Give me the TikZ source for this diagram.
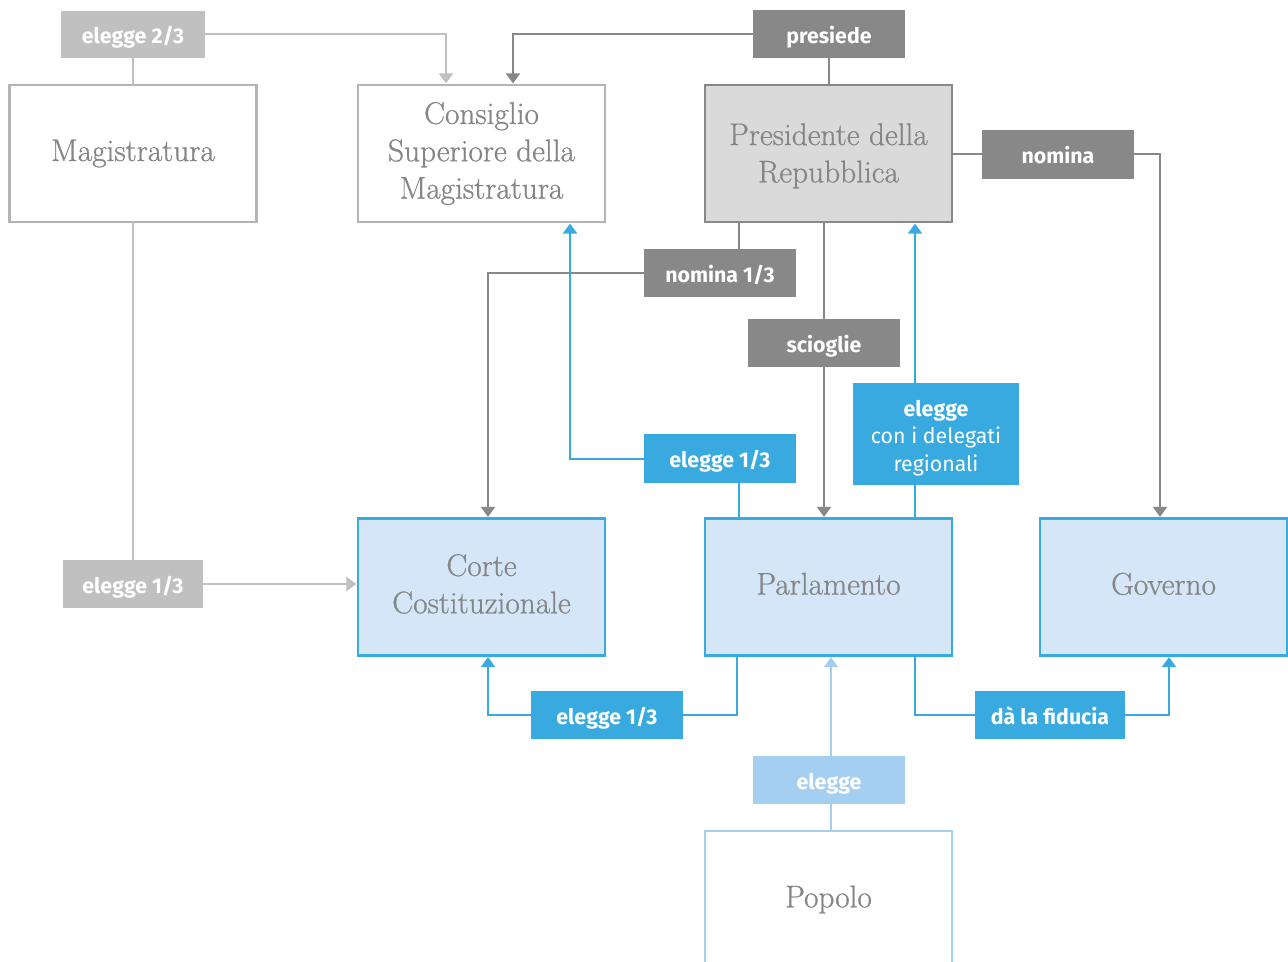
\documentclass[tikz,border=0pt]{standalone}
\usepackage{fontspec}
\usetikzlibrary{arrows.meta}
\newfontfamily\lblfont{Fira Sans}
\newfontfamily\boxfont{Latin Modern Roman}[FakeBold=0.7]
\definecolor{bxgray}{HTML}{B4B4B4}
\definecolor{lgray}{HTML}{C0C0C0}
\definecolor{dgray}{HTML}{888888}
\definecolor{presfill}{HTML}{DADADA}
\definecolor{blu}{HTML}{38AAE0}
\definecolor{blufill}{HTML}{D4E6F7}
\definecolor{lblu}{HTML}{A5CFF0}
\definecolor{txtgray}{HTML}{858585}
\begin{document}
\begin{tikzpicture}[x=0.75pt,y=-0.75pt,
  wh/.style 2 args={minimum width=#1*0.75pt, minimum height=#2*0.75pt},
  box/.style={draw, line width=1.9pt, inner sep=0pt, outer sep=0pt, wh={247}{137},
    align=center, text=txtgray, font=\boxfont\fontsize{23.5}{28}\selectfont},
  lbl/.style={inner sep=0pt, outer sep=0pt, text=white, align=center,
    font=\lblfont\bfseries\fontsize{16}{20.6}\selectfont},
  one/.style={text height=14pt, text depth=0pt},
  ln/.style={line width=1.5pt},
  arr/.style={-{Triangle[width=10.5pt,length=7.5pt]}, shorten >=1.2pt},
  lgline/.style={ln, draw=lgray},
  dgline/.style={ln, draw=dgray},
  bline/.style={ln, draw=blu},
  lbline/.style={ln, draw=lblu}]
\path[use as bounding box, clip] (0,0) rectangle (1288,962);
\fill[white] (0,0) rectangle (1288,962);

% main boxes
\node[box, draw=bxgray, fill=white] (mag) at (133,153.5) {Magistratura};
\node[box, draw=bxgray, fill=white] (csm) at (481.5,153.5) {Consiglio\\Superiore della\\Magistratura};
\node[box, draw=dgray, fill=presfill, text depth=1pt] (pres) at (828.5,153.5) {Presidente della\\Repubblica};
\node[box, draw=blu, fill=blufill, text depth=5pt] (corte) at (481.5,587) {Corte\\Costituzionale};
\node[box, draw=blu, fill=blufill, text depth=5pt] (parl) at (828.5,587) {Parlamento};
\node[box, draw=blu, fill=blufill, text depth=5pt] (gov) at (1163.5,587) {Governo};
\node[box, draw=lblu, fill=white] (pop) at (828.5,899.5) {Popolo};

% labels
\node[lbl, one, fill=lgray, wh={144}{47}] (l23) at (133,34.5) {elegge 2/3};
\node[lbl, one, fill=dgray, wh={152}{48}] (presiede) at (829,34) {presiede};
\node[lbl, one, fill=dgray, wh={152}{49}] (nomina) at (1058,154.5) {nomina};
\node[lbl, one, fill=dgray, wh={152}{48}] (nom13) at (720,273) {nomina 1/3};
\node[lbl, one, fill=dgray, wh={152}{48}] (sciog) at (824,343) {scioglie};
\node[lbl, fill=blu, wh={166}{102}] (del) at (936,434) {};
\node[lbl] (deltext) at (936,438) {elegge\\\mdseries con i delegati\\\mdseries regionali};
\node[lbl, one, fill=blu, wh={152}{49}] (e13a) at (720,458.5) {elegge 1/3};
\node[lbl, one, fill=lgray, wh={140}{48}] (e13g) at (133,584) {elegge 1/3};
\node[lbl, one, fill=blu, wh={152}{48}] (e13b) at (607,715) {elegge 1/3};
\node[lbl, one, fill=blu, wh={150}{48}] (fid) at (1050,715) {dà la fiducia};
\node[lbl, one, fill=lblu, wh={152}{48}] (elp) at (829,780) {elegge};

% helper x positions
\coordinate (x446) at (446,0);
\coordinate (x513) at (513,0);
\coordinate (x1160) at (1160,0);
\coordinate (x739) at (739,0);
\coordinate (x488) at (488,0);
\coordinate (x915) at (915,0);
\coordinate (x570) at (570,0);
\coordinate (x737) at (737,0);
\coordinate (x1169) at (1169,0);
\coordinate (x831) at (831,0);

% connectors
\draw[lgline, arr] (l23.east) -| (csm.north -| x446);
\draw[lgline] (l23.south) -- (mag.north);
\draw[dgline] (presiede.south) -- (presiede.south |- pres.north);
\draw[dgline, arr] (presiede.west) -| (csm.north -| x513);
\draw[dgline] (pres.east |- nomina.west) -- (nomina.west);
\draw[dgline, arr] (nomina.east) -| (gov.north -| x1160);
\draw[dgline] (pres.south -| x739) -- (nom13.north -| x739);
\draw[dgline, arr] (nom13.west) -| (corte.north -| x488);
\draw[dgline] (pres.south -| sciog.north) -- (sciog.north);
\draw[dgline, arr] (sciog.south) -- (parl.north -| sciog.south);
\draw[bline] (parl.north -| x915) -- (del.south -| x915);
\draw[bline, arr] (del.north -| x915) -- (pres.south -| x915);
\draw[bline] (parl.north -| x739) -- (e13a.south -| x739);
\draw[bline, arr] (e13a.west) -| (csm.south -| x570);
\draw[lgline] (mag.south) -- (e13g.north);
\draw[lgline, arr] (e13g.east) -- (corte.west |- e13g.east);
\draw[bline] (parl.south -| x737) |- (e13b.east);
\draw[bline, arr] (e13b.west) -| (corte.south -| x488);
\draw[bline] (parl.south -| x915) |- (fid.west);
\draw[bline, arr] (fid.east) -| (gov.south -| x1169);
\draw[lbline] (pop.north -| x831) -- (elp.south -| x831);
\draw[lbline, arr] (elp.north -| x831) -- (parl.south -| x831);
\end{tikzpicture}
\end{document}
